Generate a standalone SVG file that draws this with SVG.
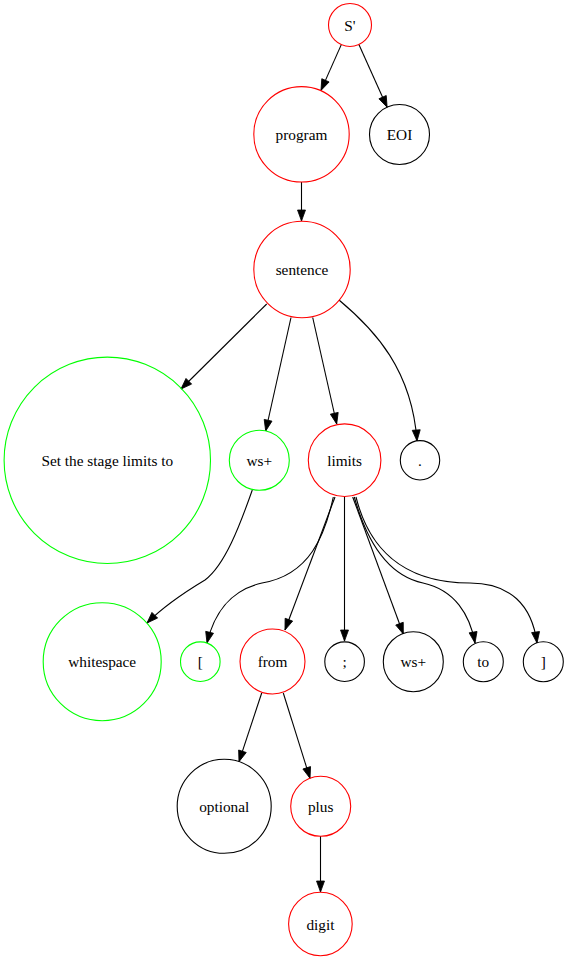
<svg xmlns="http://www.w3.org/2000/svg" width="568" height="960" viewBox="0 0 568 960">
<style>
  .n { fill: none; stroke-width: 1.1; }
  .r { stroke: #ff0000; }
  .g { stroke: #00ff00; }
  .k { stroke: #000000; }
  .t text { font-size: 15.3px; text-anchor: middle; fill: #000; }
  .e path { fill: none; stroke: #000; stroke-width: 1.1; marker-end: url(#ah); }
</style>
<defs>
  <marker id="ah" markerUnits="userSpaceOnUse" markerWidth="14" markerHeight="10" refX="11" refY="4" orient="auto" overflow="visible">
    <path d="M0,0 L11,4 L0,8 z" fill="#000" stroke="#000" stroke-width="0.8"/>
  </marker>
</defs>
<rect width="568" height="960" fill="#fff"/>
<g class="e" id="edges">
  <path d="M341.3,44.6 L321,90.4"/>
  <path d="M358.9,44.6 L387.1,107.2"/>
  <path d="M301.5,182 L301.5,221"/>
  <path d="M266.7,304 L181,389"/>
  <path d="M291,317.5 L265.7,431"/>
  <path d="M312.7,317.5 L336.7,424"/>
  <path d="M339,300 C375,330 412,370 417,441"/>
  <path d="M252.3,490 C240,525 225,565 205,580 C185,592 165,605 147,623"/>
  <path d="M333.3,497 C325,535 310,575 262,583 C232,590 215,610 207,643"/>
  <path d="M335,497 L285,630"/>
  <path d="M344.5,497 L344.5,641"/>
  <path d="M352.7,497 L403.3,634"/>
  <path d="M354.3,497 C365,535 385,575 423,583 C455,590 470,615 475,643"/>
  <path d="M356,497 C368,545 400,583 470,583 C510,583 532,605 537,643"/>
  <path d="M261.7,693 L239,761.7"/>
  <path d="M283.3,693 L310,778.3"/>
  <path d="M320.5,836 L320.5,892"/>
</g>
<g class="t" font-family="'Liberation Serif', 'Times New Roman', 'DejaVu Serif', serif">
<g id="n_Sprime"><circle class="n r" cx="350" cy="25" r="21.5"/><text x="350" y="30.5">S'</text></g>
<g id="n_program"><circle class="n r" cx="301.5" cy="134.3" r="47.7"/><text x="301.5" y="139.8">program</text></g>
<g id="n_EOI"><circle class="n k" cx="399.5" cy="134.5" r="30"/><text x="399.5" y="140">EOI</text></g>
<g id="n_sentence"><circle class="n r" cx="302" cy="269.5" r="48.2"/><text x="302" y="275">sentence</text></g>
<g id="n_set"><circle class="n g" cx="107.3" cy="460.3" r="103.2"/><text x="107.3" y="466">Set the stage limits to</text></g>
<g id="n_ws1"><circle class="n g" cx="259.3" cy="460.3" r="30"/><text x="259.3" y="466">ws+</text></g>
<g id="n_limits"><circle class="n r" cx="344.6" cy="460.2" r="36.3"/><text x="344.6" y="466">limits</text></g>
<g id="n_dot"><circle class="n k" cx="420" cy="460.3" r="19.7"/><text x="420" y="466">.</text></g>
<g id="n_whitespace"><circle class="n g" cx="102.2" cy="661.7" r="59"/><text x="102.2" y="667.2">whitespace</text></g>
<g id="n_lbr"><circle class="n g" cx="200.3" cy="661.7" r="19.8"/><text x="200.3" y="667.2">[</text></g>
<g id="n_from"><circle class="n r" cx="272.5" cy="661.5" r="32.5"/><text x="272.5" y="667">from</text></g>
<g id="n_semi"><circle class="n k" cx="344.6" cy="661.7" r="19.8"/><text x="344.6" y="667.2">;</text></g>
<g id="n_ws2"><circle class="n k" cx="413.3" cy="661.7" r="30"/><text x="413.3" y="667.2">ws+</text></g>
<g id="n_to"><circle class="n k" cx="483.3" cy="661.7" r="20"/><text x="483.3" y="667.2">to</text></g>
<g id="n_rbr"><circle class="n k" cx="543.3" cy="661.7" r="20"/><text x="543.3" y="667.2">]</text></g>
<g id="n_optional"><circle class="n k" cx="224.2" cy="806.3" r="47"/><text x="224.2" y="811.8">optional</text></g>
<g id="n_plus"><circle class="n r" cx="320.7" cy="806.3" r="30"/><text x="320.7" y="811.8">plus</text></g>
<g id="n_digit"><circle class="n r" cx="320.4" cy="924" r="31.8"/><text x="320.4" y="929.5">digit</text></g>
</g>
</svg>
